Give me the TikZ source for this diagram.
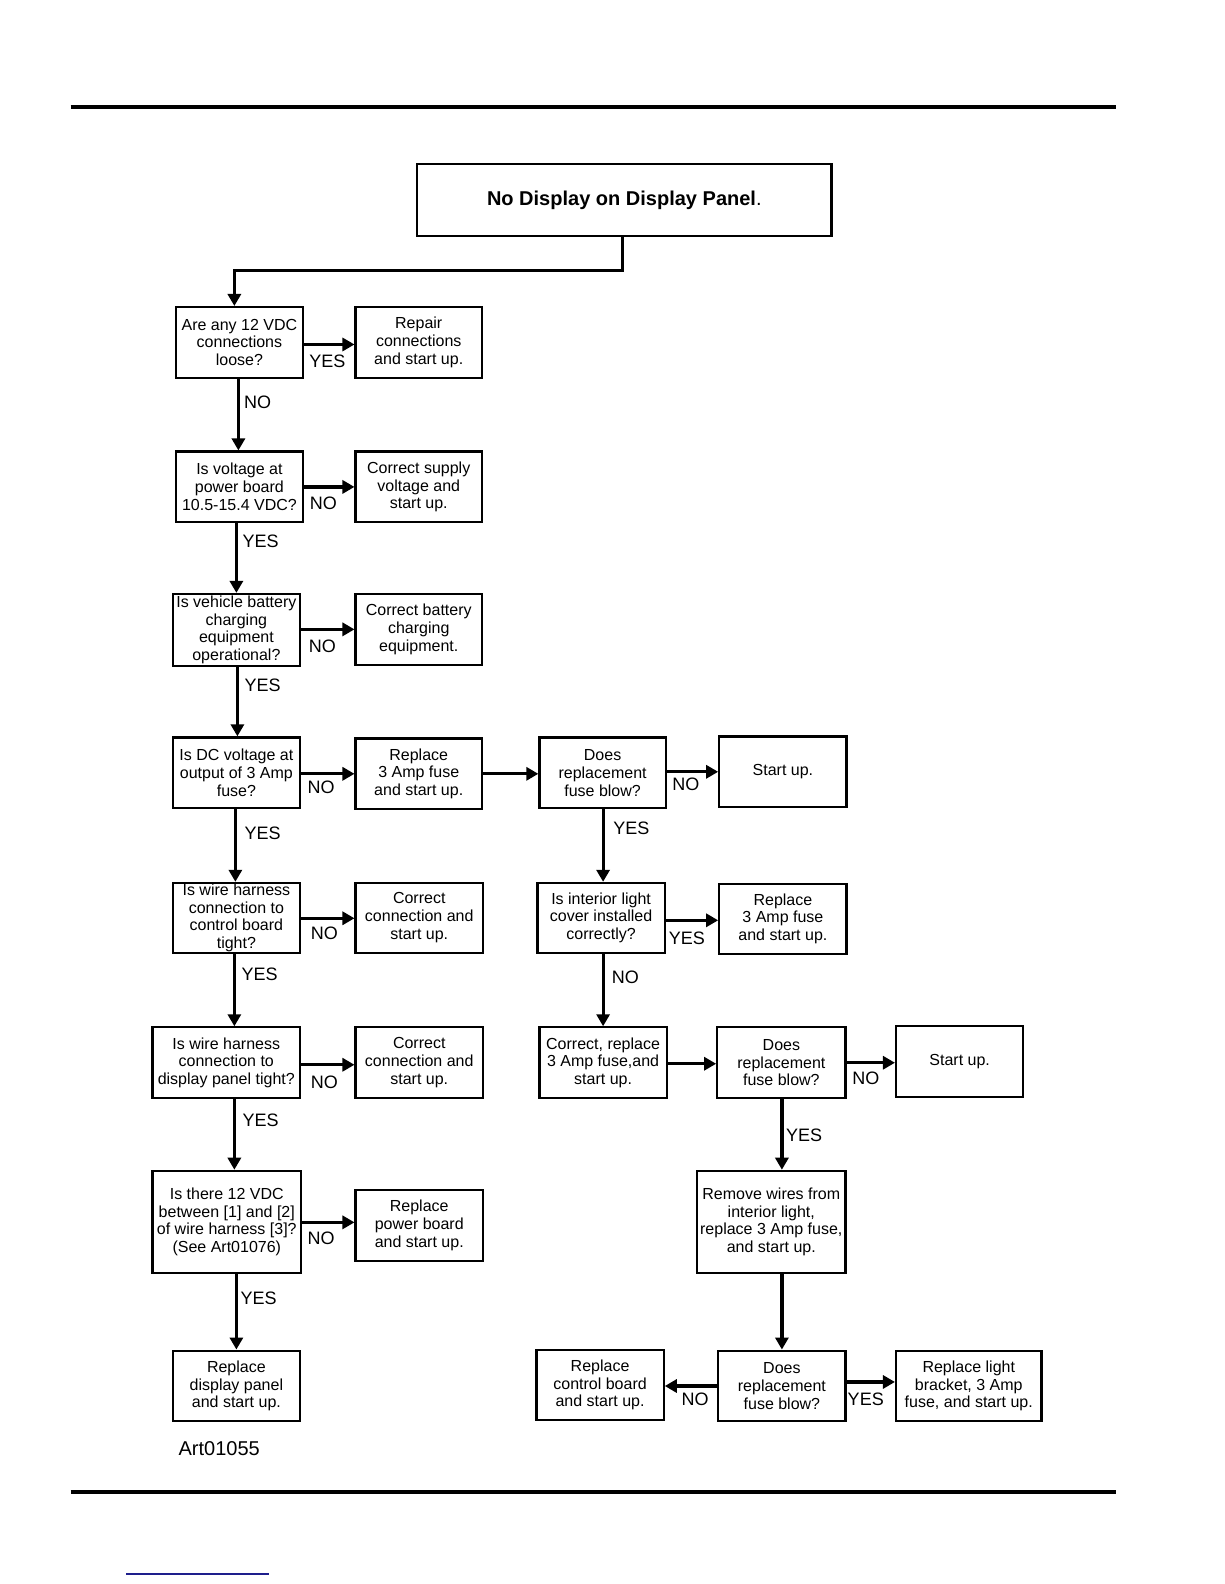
\documentclass[tikz,border=0pt]{standalone}
\usepackage{fontspec}
\setmainfont{Liberation Sans}
\usetikzlibrary{arrows.meta}
\definecolor{linkblue}{RGB}{30,30,140}
\newcommand\bx[7][]{\node[box,#1,minimum width={(#5-#3)*0.50495pt},minimum height={(#6-#4)*0.50495pt}] (#2) at ({(#3+#5)/2},{(#4+#6)/2}) {#7};}
\begin{document}
\begin{tikzpicture}[x=0.50495pt,y=-0.50495pt,
  box/.style={draw,line width=1.1pt,inner sep=0pt,align=center,font=\fontsize{8}{8.9}\selectfont},
  arr/.style={line width=1.6pt,-{Triangle[length=6pt,width=6.5pt]}},
  lbl/.style={font=\fontsize{9}{10}\selectfont,inner sep=0pt}]
\useasboundingbox (0,0) rectangle (1212,1568);
% rules
\draw[line width=2pt] (70,106) -- (1105,106);
\draw[line width=2pt] (70,1477) -- (1105,1477);
\draw[line width=0.8pt,linkblue] (125,1558) -- (266,1558);
% boxes
\bx[font=\fontsize{10}{12}\selectfont]{title}{413}{162}{823}{234}{\textbf{No Display on Display Panel}.}
\bx{b1}{174}{304}{300}{374}{Are any 12 VDC\\connections\\loose?}
\bx{r1}{352}{304}{477}{374}{Repair\\connections\\and start up.}
\bx{b2}{174}{447}{300}{517}{Is voltage at\\power board\\10.5-15.4 VDC?}
\bx{r2}{352}{447}{477}{517}{Correct supply\\voltage and\\start up.}
\bx{b3}{171}{588}{297}{659}{Is vehicle battery\\charging\\equipment\\operational?}
\bx{r3}{352}{588}{477}{658}{Correct battery\\charging\\equipment.}
\bx{b4}{171}{730}{297}{800}{Is DC voltage at\\output of 3 Amp\\fuse?}
\bx{r4}{352}{731}{477}{801}{Replace\\3 Amp fuse\\and start up.}
\bx{m1}{534}{730}{659}{800}{Does\\replacement\\fuse blow?}
\bx{s1}{712}{729}{838}{799}{Start up.}
\bx{b5}{171}{874}{297}{943}{Is wire harness\\connection to\\control board\\tight?}
\bx{r5}{352}{874}{478}{943}{Correct\\connection and\\start up.}
\bx{m2}{532}{874}{658}{943}{Is interior light\\cover installed\\correctly?}
\bx{m2r}{712}{875}{838}{944}{Replace\\3 Amp fuse\\and start up.}
\bx{b6}{151}{1017}{297}{1087}{Is wire harness\\connection to\\display panel tight?}
\bx{r6}{352}{1017}{478}{1087}{Correct\\connection and\\start up.}
\bx{m3}{534}{1017}{660}{1087}{Correct, replace\\3 Amp fuse,and\\start up.}
\bx{m4}{710}{1017}{837}{1087}{Does\\replacement\\fuse blow?}
\bx{s2}{887}{1016}{1013}{1086}{Start up.}
\bx{b7}{151}{1159}{298}{1260}{Is there 12 VDC\\between [1] and [2]\\of wire harness [3]?\\(See Art01076)}
\bx{r7}{352}{1178}{478}{1248}{Replace\\power board\\and start up.}
\bx{b8}{171}{1337}{297}{1407}{Replace\\display panel\\and start up.}
\bx{m5}{690}{1159}{837}{1260}{Remove wires from\\interior light,\\replace 3 Amp fuse,\\and start up.}
\bx{m6}{711}{1337}{837}{1407}{Does\\replacement\\fuse blow?}
\bx{l6}{531}{1336}{657}{1406}{Replace\\control board\\and start up.}
\bx{r8}{887}{1337}{1031}{1407}{Replace light\\bracket, 3 Amp\\fuse, and start up.}
% connectors
\coordinate (tj) at (232,268);
\draw[arr] (title.south -| 616,0) |- (tj) -- (b1.north -| tj);
\draw[arr] (b1.east |- 0,341) -- (r1.west |- 0,341);
\draw[arr] (b2.east |- 0,482) -- (r2.west |- 0,482);
\draw[arr] (b3.east |- 0,623) -- (r3.west |- 0,623);
\draw[arr] (b4.east |- 0,766) -- (r4.west |- 0,766);
\draw[arr] (r4.east |- 0,766) -- (m1.west |- 0,766);
\draw[arr] (m1.east |- 0,764) -- (s1.west |- 0,764);
\draw[arr] (b5.east |- 0,909) -- (r5.west |- 0,909);
\draw[arr] (m2.east |- 0,911) -- (m2r.west |- 0,911);
\draw[arr] (b6.east |- 0,1054) -- (r6.west |- 0,1054);
\draw[arr] (m3.east |- 0,1053) -- (m4.west |- 0,1053);
\draw[arr] (m4.east |- 0,1052) -- (s2.west |- 0,1052);
\draw[arr] (b7.east |- 0,1210) -- (r7.west |- 0,1210);
\draw[arr] (m6.west |- 0,1372) -- (l6.east |- 0,1372);
\draw[arr] (m6.east |- 0,1368) -- (r8.west |- 0,1368);
\draw[arr] (b1.south -| 236,0) -- (b2.north -| 236,0);
\draw[arr] (b2.south -| 234,0) -- (b3.north -| 234,0);
\draw[arr] (b3.south -| 235,0) -- (b4.north -| 235,0);
\draw[arr] (b4.south -| 233,0) -- (b5.north -| 233,0);
\draw[arr] (b5.south -| 232,0) -- (b6.north -| 232,0);
\draw[arr] (b6.south -| 232,0) -- (b7.north -| 232,0);
\draw[arr] (b7.south -| 234,0) -- (b8.north -| 234,0);
\draw[arr] (m1.south -| 597,0) -- (m2.north -| 597,0);
\draw[arr] (m2.south -| 597,0) -- (m3.north -| 597,0);
\draw[arr] (m4.south -| 774,0) -- (m5.north -| 774,0);
\draw[arr] (m5.south -| 774,0) -- (m6.north -| 774,0);
% labels
\node[lbl] (y1) at (324,358) {YES};
\node[lbl] (n1) at (255,398) {NO};
\node[lbl] (n2) at (320,498) {NO};
\node[lbl] (y2) at (258,536) {YES};
\node[lbl] (n3) at (319,640) {NO};
\node[lbl] (y3) at (260,678) {YES};
\node[lbl] (n4) at (318,779) {NO};
\node[lbl] (n5) at (679,776) {NO};
\node[lbl] (y4) at (260,825) {YES};
\node[lbl] (y5) at (625,820) {YES};
\node[lbl] (n6) at (321,924) {NO};
\node[lbl] (y6) at (680,929) {YES};
\node[lbl] (y7) at (257,964) {YES};
\node[lbl] (n7) at (619,967) {NO};
\node[lbl] (n8) at (321,1071) {NO};
\node[lbl] (n9) at (857,1067) {NO};
\node[lbl] (y8) at (258,1109) {YES};
\node[lbl] (y9) at (796,1124) {YES};
\node[lbl] (n10) at (318,1226) {NO};
\node[lbl] (y10) at (256,1285) {YES};
\node[lbl] (n11) at (688,1385) {NO};
\node[lbl] (y11) at (857,1385) {YES};
\node[inner sep=0pt,font=\fontsize{10}{12}\selectfont] (art) at (217,1434) {Art01055};
\end{tikzpicture}
\end{document}
